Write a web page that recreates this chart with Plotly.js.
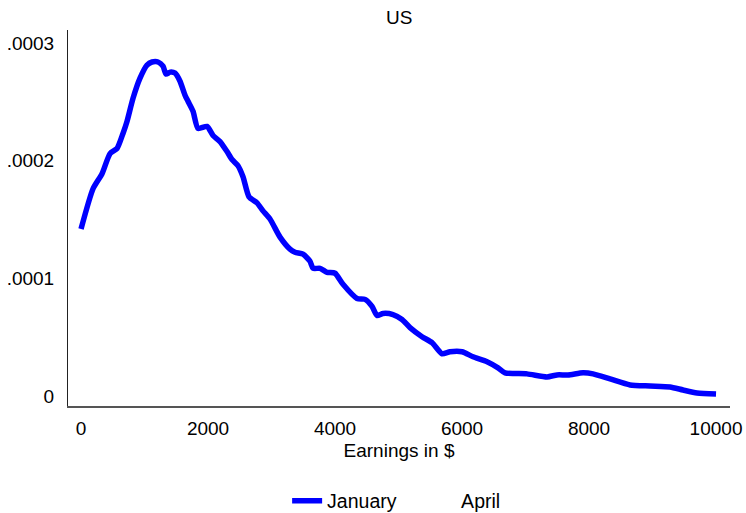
<!DOCTYPE html>
<html>
<head>
<meta charset="utf-8">
<script src="https://cdn.plot.ly/plotly-3.0.1.min.js"></script>
<style>html,body{margin:0;padding:0;background:#fff;}#chart{width:746px;height:513px;}</style>
</head>
<body>
<div id="chart"></div>
<script>
// Earnings (x) and density (y)
const janX = [0,189,331,457,567,661,724,819,929,1039,1118,1213,1291,1339,1402,1480,1559,1638,1685,1764,1843,1984,2079,2189,2299,2378,2472,2551,2646,2772,2866,2976,3134,3291,3370,3496,3606,3654,3764,3874,4000,4126,4346,4472,4583,4661,4756,4913,5055,5181,5370,5528,5685,5811,6000,6173,6394,6567,6677,7024,7339,7496,7669,7906,8063,8331,8646,8961,9276,9480,9701,10000];
const janY = [1.419e-4,1.761e-4,1.889e-4,2.060e-4,2.103e-4,2.231e-4,2.333e-4,2.530e-4,2.701e-4,2.812e-4,2.838e-4,2.838e-4,2.803e-4,2.735e-4,2.752e-4,2.744e-4,2.675e-4,2.556e-4,2.504e-4,2.419e-4,2.274e-4,2.291e-4,2.214e-4,2.162e-4,2.077e-4,2.009e-4,1.957e-4,1.863e-4,1.692e-4,1.641e-4,1.573e-4,1.504e-4,1.350e-4,1.248e-4,1.222e-4,1.205e-4,1.145e-4,1.085e-4,1.085e-4,1.051e-4,1.043e-4,9.49e-5,8.29e-5,8.21e-5,7.61e-5,6.84e-5,7.01e-5,6.92e-5,6.50e-5,5.81e-5,5.04e-5,4.53e-5,3.59e-5,3.76e-5,3.76e-5,3.33e-5,2.91e-5,2.39e-5,1.97e-5,1.88e-5,1.62e-5,1.79e-5,1.79e-5,1.97e-5,1.88e-5,1.45e-5,9.4e-6,8.5e-6,7.7e-6,5.1e-6,2.6e-6,1.7e-6];
const aprX = [0,189,331,457,567,661,724,819,929,1039,1118,1213,1291,1339,1402,1480,1559,1638,1685,1764,1843,1984,2079,2189,2299,2378,2472,2551,2646,2772,2866,2976,3134,3291,3370,3496,3606,3654,3764,3874,4000,4126,4346,4472,4583,4661,4756,4913,5055,5181,5370,5528,5685,5811,6000,6173,6394,6567,6677,7024,7339,7496,7669,7906,8063,8331,8646,8961,9276,9480,9701,10000];
const aprY = [1.419e-4,1.761e-4,1.889e-4,2.060e-4,2.103e-4,2.250e-4,2.290e-4,2.530e-4,2.701e-4,2.812e-4,2.838e-4,2.838e-4,2.803e-4,2.735e-4,2.752e-4,2.744e-4,2.675e-4,2.556e-4,2.504e-4,2.419e-4,2.274e-4,2.291e-4,2.214e-4,2.162e-4,2.077e-4,2.009e-4,1.957e-4,1.863e-4,1.692e-4,1.641e-4,1.573e-4,1.504e-4,1.350e-4,1.248e-4,1.222e-4,1.205e-4,1.145e-4,1.085e-4,1.085e-4,1.051e-4,1.043e-4,9.49e-5,8.29e-5,8.21e-5,7.61e-5,6.84e-5,7.01e-5,6.92e-5,6.50e-5,5.81e-5,5.04e-5,4.53e-5,3.59e-5,3.76e-5,3.76e-5,3.33e-5,2.91e-5,2.39e-5,1.78e-5,1.80e-5,1.62e-5,1.79e-5,1.79e-5,1.97e-5,1.88e-5,1.45e-5,7.6e-6,6.9e-6,5.9e-6,5.1e-6,2.6e-6,1.7e-6];
const xTicks = [0,2000,4000,6000,8000,10000];
const yTickVals = [0,0.0001,0.0002,0.0003];
const yTickText = ['0','.0001','.0002','.0003'];

const font = {family:'Liberation Sans, Arial, sans-serif', size:19, color:'#000'};
const legendFont = {family:'Liberation Sans, Arial, sans-serif', size:19.5, color:'#000'};

const traces = [
  {x: aprX, y: aprY, type:'scatter', mode:'lines', name:'April', legendrank:2,
   line:{color:'#ffffff', width:1, dash:'dash', shape:'spline', smoothing:0.6}},
  {x: janX, y: janY, type:'scatter', mode:'lines', name:'January', legendrank:1,
   line:{color:'#0000ff', width:5.5, shape:'spline', smoothing:0.6}}
];

const layout = {
  width:746, height:513,
  margin:{l:68, r:16, t:30, b:107, autoexpand:false},
  paper_bgcolor:'#fff', plot_bgcolor:'#fff',
  font: font,
  title:{text:'US', x:0.535, xanchor:'center', y:0.967, yanchor:'middle', font:{family:font.family, size:19, color:'#000'}},
  xaxis:{
    range:[-205,10220], tickvals:xTicks, ticktext:xTicks.map(String),
    showgrid:false, zeroline:false, showline:true, linecolor:'#555', linewidth:1.5,
    ticks:'', ticklabelstandoff:5,
    title:{text:'Earnings in $', font:font, standoff:5}
  },
  yaxis:{
    range:[-8.5e-6, 3.11e-4], tickvals:yTickVals, ticktext:yTickText,
    showgrid:false, zeroline:false, showline:true, linecolor:'#222', linewidth:1,
    ticks:'', ticklabelstandoff:9
  },
  showlegend:true,
  legend:{orientation:'h', x:0.331, xanchor:'left', y:-0.253, yanchor:'middle', font:legendFont, entrywidth:89, bgcolor:'rgba(0,0,0,0)', traceorder:'normal'}
};

Plotly.newPlot('chart', traces, layout, {displayModeBar:false, staticPlot:true});
</script>
</body>
</html>
